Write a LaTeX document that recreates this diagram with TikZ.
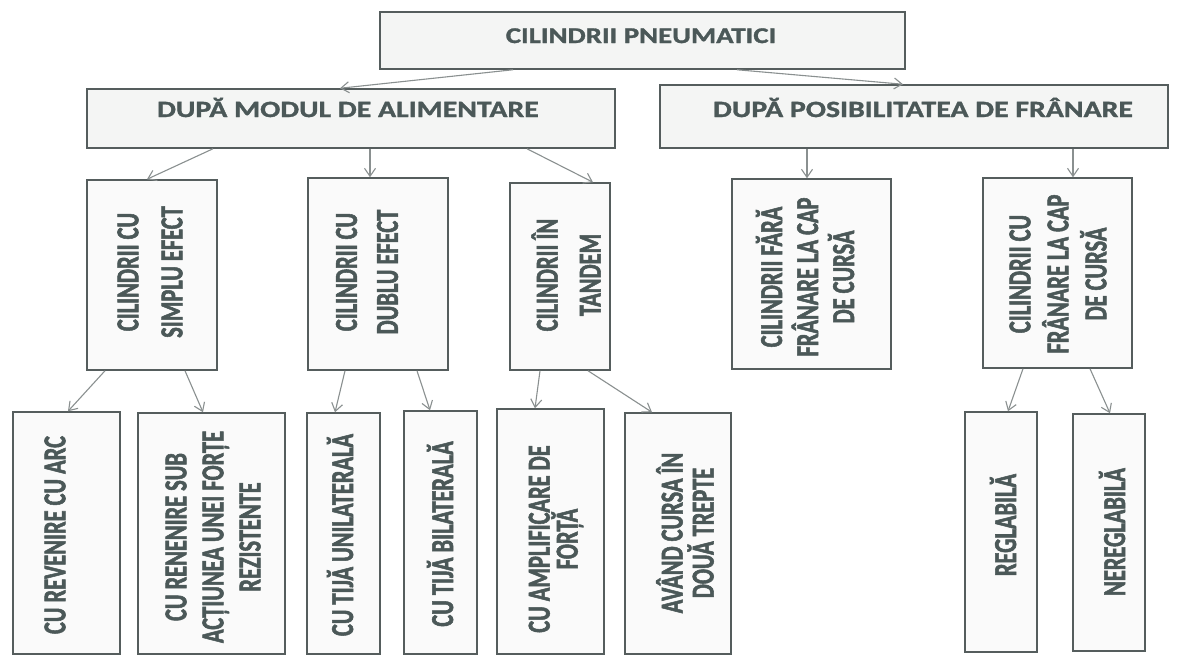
\documentclass[tikz,border=0pt]{standalone}
\usepackage{fontspec}
\usetikzlibrary{arrows.meta}
\newfontfamily\vfont[FakeStretch=0.7,FakeBold=1.6]{Carlito Bold}
\newfontfamily\hfont[FakeStretch=1.28,FakeBold=1.4]{Carlito Bold}
\definecolor{txt}{HTML}{4B5858}
\definecolor{edge}{HTML}{555D5D}
\definecolor{arr}{HTML}{8A9090}
\definecolor{fillA}{HTML}{F4F5F4}
\definecolor{fillB}{HTML}{FAFAFA}
\tikzset{
  boxs/.style={draw=edge, line width=1.5pt, fill=fillB, inner sep=0pt, rectangle},
  boxh/.style={boxs, fill=fillA},
  htext/.style={text=txt, inner sep=0pt, anchor=base, font=\hfont\fontsize{#1}{#1}\selectfont},
  vtext/.style={rotate=90, align=center, text=txt, inner sep=0pt, font=\vfont\fontsize{32}{#1}\selectfont},
  link/.style={draw=arr, line width=1.1pt, -{Straight Barb[length=8pt,width=11pt]}}
}
\begin{document}
\begin{tikzpicture}[x=1pt,y=-1pt]
\useasboundingbox[fill=white] (0,0) rectangle (1177,657);
% boxes
\node[boxh, minimum width=525pt, minimum height=57pt] (top) at (642.5,40.5) {};
\node[boxh, minimum width=528pt, minimum height=59pt] (ml) at (351,118.5) {};
\node[boxh, minimum width=508pt, minimum height=63pt] (mr) at (914,116.5) {};
\node[boxs, minimum width=130pt, minimum height=190pt] (b1) at (152,275) {};
\node[boxs, minimum width=140pt, minimum height=192pt] (b2) at (378,274) {};
\node[boxs, minimum width=100pt, minimum height=187pt] (b3) at (560,276.5) {};
\node[boxs, minimum width=159pt, minimum height=190pt] (b4) at (811.5,274) {};
\node[boxs, minimum width=149pt, minimum height=190pt] (b5) at (1057.5,273) {};
\node[boxs, minimum width=107pt, minimum height=242pt] (ca) at (66.5,533) {};
\node[boxs, minimum width=147pt, minimum height=241pt] (cb) at (211.5,533.5) {};
\node[boxs, minimum width=73pt, minimum height=241pt] (cc) at (343.5,533.5) {};
\node[boxs, minimum width=73pt, minimum height=243pt] (cd) at (440.5,532.5) {};
\node[boxs, minimum width=107pt, minimum height=245pt] (ce) at (550.5,531.5) {};
\node[boxs, minimum width=106pt, minimum height=241pt] (cf) at (678,533.5) {};
\node[boxs, minimum width=72pt, minimum height=240pt] (cg) at (1001,532) {};
\node[boxs, minimum width=72pt, minimum height=237pt] (ch) at (1109,532.5) {};
% texts
\node[htext=22.5] (ttop) at (641,43) {CILINDRII PNEUMATICI};
\node[htext=23.3] (tml) at (348,117) {DUPĂ MODUL DE ALIMENTARE};
\node[htext=23.3] (tmr) at (923,117) {DUPĂ POSIBILITATEA DE FRÂNARE};
\node[vtext=44] (t1) at (150,272) {CILINDRII CU\\SIMPLU EFECT};
\node[vtext=41] (t2) at (367,272) {CILINDRII CU\\DUBLU EFECT};
\node[vtext=43] (t3) at (566,275) {CILINDRII ÎN\\TANDEM};
\node[vtext=36] (t4) at (805,277) {CILINDRII FĂRĂ\\FRÂNARE LA CAP\\DE CURSĂ};
\node[vtext=38] (t5) at (1058,274) {CILINDRII CU\\FRÂNARE LA CAP\\DE CURSĂ};
\node[vtext=36] (ta) at (55,535) {CU REVENIRE CU ARC};
\node[vtext=37] (tb) at (213,537) {CU RENENIRE SUB\\ACȚIUNEA UNEI FORȚE\\REZISTENTE};
\node[vtext=36] (tc) at (340,535) {CU TIJĂ UNILATERALĂ};
\node[vtext=36] (td) at (440,534) {CU TIJĂ BILATERALĂ};
\node[vtext=28] (te) at (556,539) {CU AMPLIFICARE DE\\FORȚĂ};
\node[vtext=31] (tf) at (685,533) {AVÂND CURSA ÎN\\DOUĂ TREPTE};
\node[vtext=36] (tg) at (1003,525) {REGLABILĂ};
\node[vtext=36] (th) at (1112,532) {NEREGLABILĂ};
% connectors
\draw[link] (513,0 |- top.south) -- (340,0 |- ml.north);
\draw[link] (737,0 |- top.south) -- (903,0 |- mr.north);
\draw[link] (213,0 |- ml.south) -- (147,0 |- b1.north);
\draw[link] (370,0 |- ml.south) -- (370,0 |- b2.north);
\draw[link] (527,0 |- ml.south) -- (593,0 |- b3.north);
\draw[link] (807,0 |- mr.south) -- (807,0 |- b4.north);
\draw[link] (1073,0 |- mr.south) -- (1073,0 |- b5.north);
\draw[link] (105,0 |- b1.south) -- (68,0 |- ca.north);
\draw[link] (185,0 |- b1.south) -- (203,0 |- cb.north);
\draw[link] (345,0 |- b2.south) -- (335,0 |- cc.north);
\draw[link] (417,0 |- b2.south) -- (430,0 |- cd.north);
\draw[link] (540,0 |- b3.south) -- (535,0 |- ce.north);
\draw[link] (588,0 |- b3.south) -- (652,0 |- cf.north);
\draw[link] (1023,0 |- b5.south) -- (1008,0 |- cg.north);
\draw[link] (1090,0 |- b5.south) -- (1110,0 |- ch.north);
\end{tikzpicture}
\end{document}
